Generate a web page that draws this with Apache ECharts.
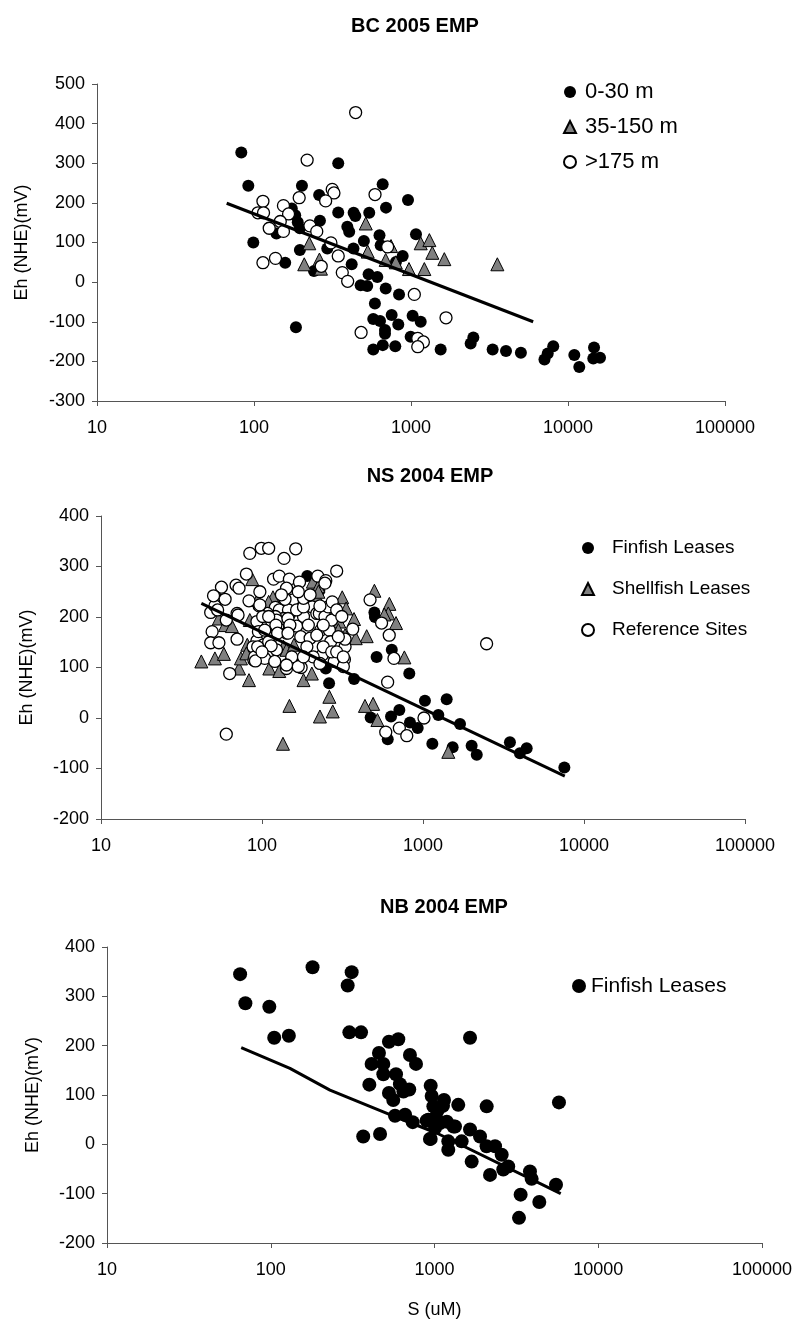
<!DOCTYPE html>
<html>
<head>
<meta charset="utf-8">
<script src="https://cdn.jsdelivr.net/npm/echarts@6/dist/echarts.min.js"></script>
<style>
  html, body { margin: 0; padding: 0; background: #fff; }
  .panel { position: absolute; left: 0; width: 796px; }
</style>
</head>
<body>
<div id="bc" class="panel" style="top:0;height:450px"></div>
<div id="ns" class="panel" style="top:450px;height:430px"></div>
<div id="nb" class="panel" style="top:880px;height:449px"></div>
<script>
// S (uM) vs Eh (NHE)(mV), three EMP surveys

// BC 2005 EMP
var bcShallow = [ // 0-30 m
  [83,327],[92,243],[99,100],[158,49],[185,-114],[202,243],[344,300],[260,220],[344,176],[431,175],
  [442,167],[542,175],[660,247],[693,188],[957,207],[174,186],[183,169],[190,151],[196,136],[263,155],
  [139,123],[196,81],[241,28],[293,85],[393,140],[404,127],[430,85],[501,104],[630,118],[641,93],
  [419,45],[478,-8],[526,-10],[537,20],[610,13],[690,-16],[839,-31],[589,-54],[885,66],[802,51],
  [1076,121],[575,-93],[635,-98],[753,-83],[830,-107],[683,-121],[683,-130],[661,-159],[575,-170],[794,-162],
  [1024,-85],[1153,-100],[995,-138],[1545,-170],[2495,-140],[2399,-155],[3311,-170],[4027,-174],[5012,-178],[8054,-162],
  [7430,-180],[7080,-195],[10970,-184],[11800,-214],[14650,-165],[14490,-193],[15990,-191]
];
var bcMid = [ // 35-150 m
  [515,148],[225,98],[209,45],[261,57],[267,34],[530,77],[746,91],[690,56],[800,50],[971,33],
  [1153,98],[1309,106],[1367,74],[1216,33],[1630,58],[3548,45]
];
var bcDeep = [ // >175 m
  [444,428],[218,308],[114,204],[106,175],[115,175],[154,193],[166,172],[125,136],[147,153],[154,128],
  [194,213],[315,234],[323,225],[286,205],[227,142],[251,128],[309,99],[344,66],[365,24],[395,2],
  [268,40],[114,49],[137,60],[481,-127],[590,221],[710,89],[1050,-31],[1104,-142],[1199,-151],[1104,-163],
  [1671,-90]
];
var bcTrend = [[67,199],[6000,-100]];

// NS 2004 EMP
var nsFinfish = [
  [191,281],[227,252],[499,209],[503,200],[515,121],[640,135],[822,88],[249,98],[261,69],[373,77],
  [473,1],[633,3],[713,16],[604,-42],[830,-9],[927,-20],[1143,-51],[1028,34],[1245,6],[1403,37],
  [1698,-12],[1528,-58],[2005,-55],[2157,-73],[3467,-48],[4000,-70],[4406,-60],[7550,-98]
];
var nsShellfish = [
  [42,112],[51,118],[58,127],[72,98],[83,75],[74,118],[81,145],[87,275],[111,98],[128,93],
  [181,75],[204,88],[148,24],[135,-51],[229,3],[275,13],[262,42],[447,162],[490,28],[521,-4],
  [436,24],[499,252],[618,226],[609,207],[680,188],[766,120],[373,196],[315,239],[333,217],[298,217],
  [136,141],[54,197],[59,184],[65,182],[94,234],[117,239],[148,225],[188,240],[207,270],[219,240],
  [224,261],[84,194],[258,181],[302,191],[328,164],[142,135],[158,145],[575,205],[382,158],[224,250],
  [298,174],[1436,-67],[110,230],[80,128]
];
var nsReference = [
  [84,326],[99,336],[110,336],[137,316],[162,335],[291,291],[80,285],[118,275],[128,281],[148,275],
  [171,269],[222,281],[249,272],[56,259],[69,263],[72,257],[51,240],[59,235],[97,250],[142,257],
  [48,209],[51,222],[53,214],[70,207],[60,194],[49,171],[48,149],[54,149],[70,156],[93,153],
  [89,115],[63,88],[60,-32],[102,145],[98,131],[110,125],[121,219],[148,206],[156,234],[164,182],
  [174,161],[181,201],[205,220],[219,207],[232,174],[262,174],[267,151],[237,125],[281,112],[328,141],
  [325,116],[366,176],[328,156],[175,100],[152,113],[469,234],[553,188],[617,164],[660,118],[603,71],
  [587,-28],[713,-20],[793,-35],[1014,0],[103,178],[107,188],[115,191],[123,171],[142,168],[128,214],
  [146,214],[164,214],[181,220],[194,184],[199,158],[219,164],[227,207],[246,201],[258,220],[271,194],
  [298,161],[115,161],[93,191],[95,171],[88,141],[93,121],[104,118],[123,135],[142,98],[190,141],
  [240,141],[271,131],[320,102],[148,184],[136,197],[121,201],[108,207],[96,222],[139,235],[181,237],
  [246,267],[50,242],[71,204],[101,201],[123,194],[132,244],[97,138],[90,121],[91,113],[153,115],
  [168,102],[2483,147],[83,232],[97,224],[110,201],[122,184],[145,197],[149,184],[104,174],[125,168],
  [145,168],[110,151],[114,143],[94,141],[100,131],[153,121],[142,105],[120,112],[168,250],[199,244],
  [229,222],[273,230],[291,214],[313,201],[240,184],[291,131],[320,121],[208,121],[181,121],[229,108]
];
var nsTrend = [[42,227],[7600,-115]];

// NB 2004 EMP
var nbFinfish = [
  [65,345],[70,286],[98,279],[105,216],[129,220],[180,359],[312,349],[295,322],[302,227],[356,227],
  [367,16],[465,21],[527,208],[601,213],[458,185],[413,163],[487,163],[487,142],[400,121],[582,142],
  [615,122],[708,181],[771,163],[701,111],[646,107],[527,104],[560,90],[574,58],[661,60],[736,45],
  [948,119],[961,98],[984,77],[916,50],[948,11],[1648,216],[1143,90],[1397,80],[2083,77],[895,48],
  [1021,56],[1081,43],[1188,46],[1306,36],[938,11],[1007,33],[1214,6],[1214,-11],[1465,6],[1648,30],
  [1897,16],[1687,-35],[2080,-4],[2183,-62],[1334,36],[5755,85],[2343,-4],[2572,-21],[2820,-45],[2630,-51],
  [3828,-55],[3920,-70],[5520,-82],[3357,-102],[4365,-117],[3281,-149],[1052,70],[1127,78]
];
var nbTrend = [[66,196],[131,154],[230,110],[535,60],[1030,23],[5900,-100]];

var xTicks = [10, 100, 1000, 10000, 100000];

var FONT = '"Liberation Sans", Arial, sans-serif';
var AXIS_COLOR = '#555';

function xAxisOpt(showName) {
  return {
    type: 'log', logBase: 10, min: xTicks[0], max: xTicks[xTicks.length - 1],
    name: showName ? 'S (uM)' : '',
    nameLocation: 'middle', nameGap: 58,
    nameTextStyle: { fontFamily: FONT, fontSize: 18, color: '#000' },
    axisLine: { onZero: false, lineStyle: { color: AXIS_COLOR, width: 1 } },
    axisTick: { length: 5, lineStyle: { color: AXIS_COLOR } },
    minorTick: { show: false },
    splitLine: { show: false },
    axisLabel: {
      fontFamily: FONT, fontSize: 18, color: '#000', margin: 18,
      formatter: function (v) { return String(Math.round(v)); }
    }
  };
}

function yAxisOpt(min, max, gap) {
  return {
    type: 'value', min: min, max: max, interval: 100,
    name: 'Eh (NHE)(mV)', nameLocation: 'middle', nameGap: gap,
    nameTextStyle: { fontFamily: FONT, fontSize: 18, color: '#000' },
    axisLine: { show: true, onZero: false, lineStyle: { color: AXIS_COLOR, width: 1 } },
    axisTick: { show: true, length: 5, lineStyle: { color: AXIS_COLOR } },
    splitLine: { show: false },
    axisLabel: { fontFamily: FONT, fontSize: 18, color: '#000', margin: 12 }
  };
}

function dots(name, data, kind, size) {
  var style;
  if (kind === 'black') style = { color: '#000', opacity: 1 };
  else if (kind === 'tri') style = { color: '#808080', borderColor: '#000', borderWidth: 1, opacity: 1 };
  else style = { color: '#fff', borderColor: '#000', borderWidth: 1.3, opacity: 1 };
  return {
    name: name, type: 'scatter', data: data,
    symbol: kind === 'tri' ? 'triangle' : 'circle',
    symbolSize: size, itemStyle: style, silent: true
  };
}

function trend(data) {
  return {
    type: 'line', data: data, showSymbol: false, symbol: 'none', silent: true,
    lineStyle: { color: '#000', width: 3 }, z: 5
  };
}

function title(text, cx, top) {
  return {
    text: text, left: cx, top: top, textAlign: 'center',
    textStyle: { fontFamily: FONT, fontSize: 20, fontWeight: 'bold', color: '#000' }
  };
}

// panel 1
var bcChart = echarts.init(document.getElementById('bc'));
bcChart.setOption({
  animation: false,
  title: title('BC 2005 EMP', 410, 11),
  grid: { left: 97, top: 84, width: 628, height: 317 },
  legend: {
    orient: 'vertical', left: 558, top: 76, itemWidth: 12, itemHeight: 12, itemGap: 13,
    data: ['0-30 m', '35-150 m', '>175 m'],
    textStyle: { fontFamily: FONT, fontSize: 22, lineHeight: 22, color: '#000', padding: [0, 0, 0, 4] }
  },
  xAxis: xAxisOpt(false),
  yAxis: yAxisOpt(-300, 500, 66),
  series: [
    dots('0-30 m', bcShallow, 'black', 12),
    dots('35-150 m', bcMid, 'tri', 13),
    dots('>175 m', bcDeep, 'white', 12),
    trend(bcTrend)
  ]
});

// panel 2
var nsChart = echarts.init(document.getElementById('ns'));
nsChart.setOption({
  animation: false,
  title: title('NS 2004 EMP', 425, 11),
  grid: { left: 101, top: 66, width: 644, height: 303 },
  legend: {
    orient: 'vertical', left: 576, top: 83, itemWidth: 12, itemHeight: 12, itemGap: 21,
    data: ['Finfish Leases', 'Shellfish Leases', 'Reference Sites'],
    textStyle: { fontFamily: FONT, fontSize: 19, lineHeight: 20, color: '#000', padding: [0, 0, 0, 13] }
  },
  xAxis: xAxisOpt(false),
  yAxis: yAxisOpt(-200, 400, 65),
  series: [
    dots('Finfish Leases', nsFinfish, 'black', 12),
    dots('Shellfish Leases', nsShellfish, 'tri', 13),
    dots('Reference Sites', nsReference, 'white', 12),
    trend(nsTrend)
  ]
});

// panel 3
var nbChart = echarts.init(document.getElementById('nb'));
nbChart.setOption({
  animation: false,
  title: title('NB 2004 EMP', 439, 12),
  grid: { left: 107, top: 67, width: 655, height: 296 },
  legend: {
    orient: 'vertical', left: 567, top: 90, itemWidth: 14, itemHeight: 14,
    data: ['Finfish Leases'],
    textStyle: { fontFamily: FONT, fontSize: 21, lineHeight: 22, color: '#000' }
  },
  xAxis: xAxisOpt(true),
  yAxis: yAxisOpt(-200, 400, 65),
  series: [
    dots('Finfish Leases', nbFinfish, 'black', 14),
    trend(nbTrend)
  ]
});
</script>
</body>
</html>
